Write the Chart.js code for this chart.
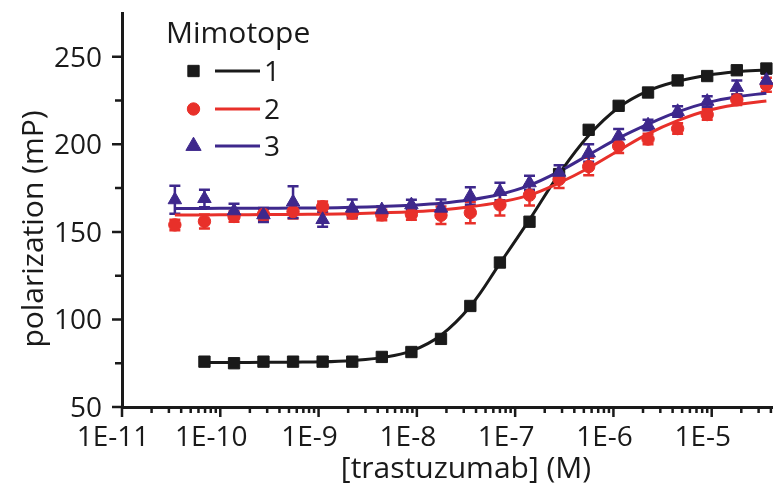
<!DOCTYPE html>
<html>
<head>
<meta charset="utf-8">
<style>
  html, body { margin: 0; padding: 0; overflow: hidden; background: #fff; }
  #wrap { position: absolute; left: 0; top: 0; width: 820px; height: 487px; }
</style>
<script src="https://cdn.jsdelivr.net/npm/chart.js@4.4.1/dist/chart.umd.min.js"></script>
</head>
<body>
<div id="wrap"><canvas id="c" width="820" height="487"></canvas></div>
<script>
// trastuzumab concentrations (M), 2-fold dilution series
const conc = [3.45E-11, 6.9E-11, 1.38E-10, 2.75E-10, 5.5E-10, 1.1E-9, 2.2E-9, 4.4E-9, 8.8E-9,
  1.76E-8, 3.5E-8, 7.0E-8, 1.4E-7, 2.8E-7, 5.6E-7, 1.13E-6, 2.25E-6, 4.5E-6, 9.0E-6, 1.8E-5, 3.6E-5];
// mimotope 1 starts one dilution higher
const conc1 = conc.slice(1);

const m1 = [75.9, 75.0, 75.9, 75.9, 75.9, 75.9, 78.6, 81.4, 88.9, 107.7, 132.5, 155.8, 183, 208.3,
  222, 229.6, 236.5, 239, 242.3, 243.3];
const m1Fit = [75.4, 75.4, 75.5, 75.6, 75.8, 76.6, 78.2, 82, 91, 107.5, 132, 157, 183, 205,
  221, 230.5, 236, 239.5, 241.5, 242.5];

const m2 = [154, 156, 158.8, 160, 161.6, 164.4, 160.7, 159.7, 160, 159.5, 161, 165.4, 171, 180,
  187.3, 199, 203, 209, 217, 225.4, 234];
const m2Err = [3, 4, 3, 3, 4, 3, 3, 3, 3, 5, 6, 6, 6, 5, 5, 4, 3, 3, 3, 3, 4];
const m2Fit = [159.7, 159.7, 159.8, 159.9, 160, 160.1, 160.4, 160.9, 161.5, 162.5, 164.3, 167, 171,
  178, 186.5, 196.5, 206, 213.5, 219.3, 222.7, 224.7];

const m3 = [168.3, 169, 162, 159.7, 167, 157, 163.5, 162.6, 165.4, 163.5, 170.5, 173, 178, 184,
  195, 204.7, 211, 218.7, 224.5, 232.5, 236.5];
const m3Err = [8, 5, 4, 4, 9, 4, 5, 2, 3, 5, 5, 5, 4, 4, 5, 4, 3, 3, 3, 4, 4];
const m3Fit = [163.4, 163.4, 163.5, 163.5, 163.6, 163.7, 164, 164.5, 165.2, 166.3, 168.3, 171.5,
  176.6, 184.5, 194, 203.5, 211.5, 218.5, 223.8, 227.2, 229.2];

const xTicks = [1E-11, 1E-10, 1E-9, 1E-8, 1E-7, 1E-6, 1E-5];
const xMinor = [2, 3, 4, 5, 6, 7, 8, 9];
const yTicks = [50, 100, 150, 200, 250];
const yMinor = [75, 125, 175, 225];

const legendLabels = ['1', '2', '3'];

const BLACK = '#1a1a1a';
const RED = '#e8302a';
const PURPLE = '#3e288c';
const FONT = '"Open Sans", "Noto Sans", sans-serif';

const pts = (xs, ys) => xs.map((x, i) => ({ x: x, y: ys[i] }));

const styles = [
  { color: BLACK, pointStyle: 'rect', radius: 8 },
  { color: RED, pointStyle: 'circle', radius: 6.2 },
  { color: PURPLE, pointStyle: 'triangle', radius: 7.8 }
];

function pointSet(data, s, order) {
  return {
    data: data, showLine: false, order: order,
    pointStyle: s.pointStyle, pointRadius: s.radius, pointBorderWidth: 1,
    backgroundColor: s.color, borderColor: s.color
  };
}
function fitSet(data, color, order) {
  return {
    data: data, showLine: true, order: order, pointRadius: 0,
    borderColor: color, borderWidth: 3, tension: 0.4, fill: false
  };
}

const errSets = [
  { xs: conc, ys: m2, err: m2Err, color: RED },
  { xs: conc, ys: m3, err: m3Err, color: PURPLE }
];

const extras = {
  id: 'extras',
  beforeDatasetsDraw(chart) {
    const ctx = chart.ctx, xs = chart.scales.x, ys = chart.scales.y;
    ctx.save();
    ctx.lineWidth = 2.5;
    errSets.forEach(set => {
      ctx.strokeStyle = set.color;
      set.xs.forEach((x, i) => {
        const px = xs.getPixelForValue(x);
        const top = ys.getPixelForValue(set.ys[i] + set.err[i]);
        const bot = ys.getPixelForValue(set.ys[i] - set.err[i]);
        ctx.beginPath();
        ctx.moveTo(px, top); ctx.lineTo(px, bot);
        ctx.moveTo(px - 5.5, top); ctx.lineTo(px + 5.5, top);
        ctx.moveTo(px - 5.5, bot); ctx.lineTo(px + 5.5, bot);
        ctx.stroke();
      });
    });
    ctx.restore();
  },
  afterDraw(chart) {
    const ctx = chart.ctx, xs = chart.scales.x, ys = chart.scales.y;
    const area = chart.chartArea;
    ctx.save();
    ctx.strokeStyle = BLACK;
    ctx.lineWidth = 2.5;
    ctx.beginPath();
    xTicks.forEach(t => {
      const px = xs.getPixelForValue(t);
      ctx.moveTo(px, area.bottom); ctx.lineTo(px, area.bottom + 10);
      xMinor.forEach(m => {
        const mx = xs.getPixelForValue(t * m);
        if (mx <= area.right) { ctx.moveTo(mx, area.bottom); ctx.lineTo(mx, area.bottom + 6); }
      });
    });
    yTicks.forEach(t => {
      const py = ys.getPixelForValue(t);
      ctx.moveTo(area.left, py); ctx.lineTo(area.left - 10, py);
    });
    yMinor.forEach(t => {
      const py = ys.getPixelForValue(t);
      ctx.moveTo(area.left, py); ctx.lineTo(area.left - 7, py);
    });
    ctx.stroke();

    // axis titles
    ctx.fillStyle = BLACK;
    ctx.font = '30px ' + FONT;
    ctx.textAlign = 'center';
    ctx.textBaseline = 'alphabetic';
    ctx.fillText('[trastuzumab] (M)', (xs.left + xs.right) / 2, 478);
    ctx.save();
    ctx.translate(43, 229);
    ctx.rotate(-Math.PI / 2);
    ctx.fillText('polarization (mP)', 0, 0);
    ctx.restore();

    // legend
    ctx.textAlign = 'left';
    ctx.font = '30px ' + FONT;
    ctx.fillText('Mimotope', 166, 43);
    const rows = [71, 109, 146];
    const legendR = [8, 6.2, 8.8];
    ctx.font = '28px ' + FONT;
    styles.forEach((s, i) => {
      ctx.fillStyle = s.color;
      ctx.strokeStyle = s.color;
      ctx.lineWidth = 1;
      Chart.helpers.drawPoint(ctx, { pointStyle: s.pointStyle, radius: legendR[i], borderWidth: 1, rotation: 0 }, 193.5, rows[i]);
      ctx.lineWidth = 3;
      ctx.beginPath();
      ctx.moveTo(215, rows[i]); ctx.lineTo(260, rows[i]);
      ctx.stroke();
      ctx.fillStyle = BLACK;
      ctx.fillText(legendLabels[i], 264, rows[i] + 10);
    });
    ctx.restore();
  }
};

new Chart(document.getElementById('c'), {
  type: 'scatter',
  data: {
    datasets: [
      pointSet(pts(conc1, m1), styles[0], 3),
      pointSet(pts(conc, m2), styles[1], 2),
      pointSet(pts(conc, m3), styles[2], 1),
      fitSet(pts(conc1, m1Fit), BLACK, 6),
      fitSet(pts(conc, m2Fit), RED, 5),
      fitSet(pts(conc, m3Fit), PURPLE, 4)
    ]
  },
  options: {
    responsive: false,
    animation: false,
    devicePixelRatio: 1,
    layout: { autoPadding: false, padding: { left: 0, right: 10, top: 13, bottom: 0 } },
    plugins: { legend: { display: false }, tooltip: { enabled: false } },
    scales: {
      x: {
        type: 'logarithmic', position: 'bottom', min: 1E-11, max: 1E-4,
        grid: { display: false, drawTicks: false },
        border: { display: true, color: BLACK, width: 3 },
        afterBuildTicks: s => { s.ticks = xTicks.map(v => ({ value: v })); },
        afterFit: s => { s.height = 80; s.paddingLeft = 0; s.paddingRight = 0; },
        ticks: {
          autoSkip: false, maxRotation: 0, padding: 14, labelOffset: -9,
          color: BLACK, font: { family: FONT, size: 28 },
          callback: v => '1E' + Math.round(Math.log10(v))
        }
      },
      y: {
        min: 50, max: 275,
        grid: { display: false, drawTicks: false },
        border: { display: true, color: BLACK, width: 3 },
        afterBuildTicks: s => { s.ticks = yTicks.map(v => ({ value: v })); },
        afterFit: s => { s.width = 122; s.paddingTop = 0; s.paddingBottom = 0; },
        ticks: {
          padding: 20, labelOffset: 2,
          color: BLACK, font: { family: FONT, size: 28 }
        }
      }
    }
  },
  plugins: [extras]
});
</script>
</body>
</html>
